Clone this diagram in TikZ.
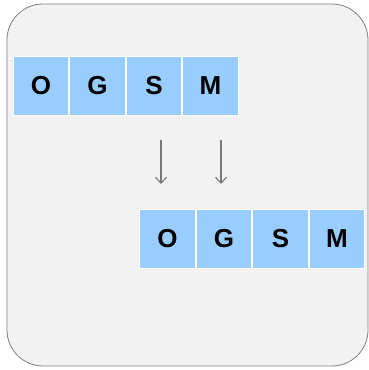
\documentclass[tikz,border=0pt]{standalone}
\usepackage{fontspec}
\setmainfont{Liberation Sans}
\usetikzlibrary{positioning,arrows.meta}
\definecolor{cellblue}{RGB}{153,204,255}
\definecolor{panelgray}{RGB}{242,242,242}
\definecolor{edgegray}{RGB}{128,128,128}
\definecolor{arrowgray}{RGB}{120,120,120}
\tikzset{
  cell/.style={rectangle, fill=cellblue, draw=white, line width=1pt,
    minimum width=55.5pt, minimum height=59pt, inner sep=0pt,
    font=\fontsize{26}{30}\selectfont\bfseries},
  shift arrow/.style={draw=arrowgray, line width=1.1pt,
    -{Straight Barb[length=6pt,width=11pt]}}
}
\begin{document}
\begin{tikzpicture}[x=1pt,y=-1pt]
    \useasboundingbox (0,0) rectangle (369,370);
    % panel
    \draw[edgegray, fill=panelgray, line width=0.8pt, rounded corners=36pt] (7,4) rectangle (368,366);
    % top row
    \node[cell] (t1) at (41,86) {O};
    \node[cell, right=0pt of t1] (t2) {G};
    \node[cell, right=0pt of t2] (t3) {S};
    \node[cell, right=0pt of t3] (t4) {M};
    % bottom row
    \node[cell] (b1) at (167.5,239) {O};
    \node[cell, right=0pt of b1] (b2) {G};
    \node[cell, right=0pt of b2] (b3) {S};
    \node[cell, right=0pt of b3] (b4) {M};
    % arrows
    \coordinate (a1) at (161,140);
    \coordinate (a2) at (221,140);
    \coordinate (e1) at (161,184);
    \coordinate (e2) at (221,184);
    \draw[shift arrow] (a1) -- (e1);
    \draw[shift arrow] (a2) -- (e2);
\end{tikzpicture}
\end{document}
